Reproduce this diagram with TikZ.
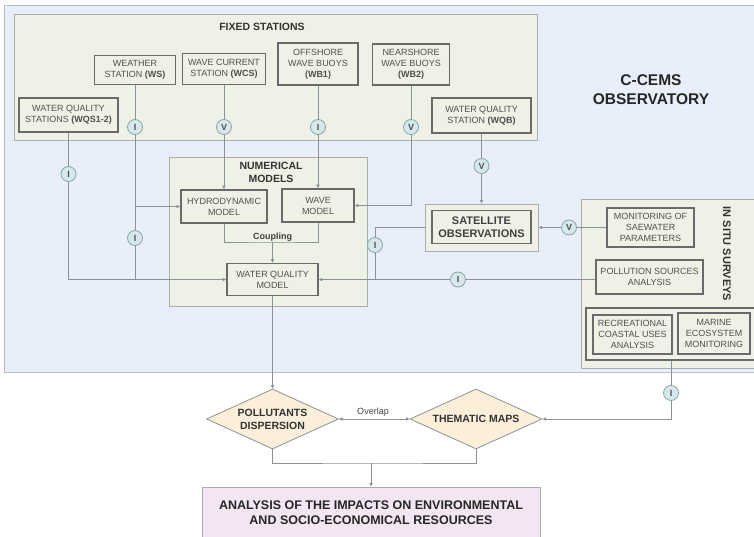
\documentclass[tikz,border=0pt]{standalone}
\usepackage{fontspec}
\setmainfont{Liberation Sans}
\usetikzlibrary{arrows.meta,shapes.geometric}
\definecolor{panelblue}{HTML}{E8EFFB}
\definecolor{panelgreen}{HTML}{EEF2E6}
\definecolor{panelline}{HTML}{A9AEAA}
\definecolor{linegray}{HTML}{8C9196}
\definecolor{boxline}{HTML}{6A6A6A}
\definecolor{txtgray}{HTML}{505050}
\definecolor{circfill}{HTML}{D6E8EC}
\definecolor{circline}{HTML}{86A4AA}
\definecolor{diafill}{HTML}{FBEFD9}
\definecolor{pinkfill}{HTML}{F3E5F1}
\begin{document}
\begin{tikzpicture}[x=1pt,y=-1pt,
  panel/.style={rectangle,fill=panelgreen,draw=panelline,line width=0.9pt,inner sep=0pt},
  sbox/.style={rectangle,draw=boxline,line width=1.4pt,fill=panelgreen,inner sep=0pt,align=center,
    font=\fontsize{9}{11}\selectfont,text=txtgray},
  conn/.style={draw=linegray,line width=0.8pt},
  tip/.tip={Triangle[length=3.6pt,width=3.2pt]},
  arr/.style={conn,-tip},
  ci/.style={circle,draw=circline,fill=circfill,line width=0.8pt,minimum size=15pt,inner sep=0pt,
    font=\bfseries\fontsize{9}{9}\selectfont,text=txtgray},
  ttl/.style={font=\bfseries\fontsize{10.5}{13}\selectfont,text=black!80,align=center},
  dia/.style={diamond,draw=linegray,fill=diafill,line width=0.8pt,inner sep=0pt,
    minimum width=132pt,minimum height=60pt}
]
\useasboundingbox (0,0) rectangle (754,537);
\clip (0,0) rectangle (754,537);
% background panel
\node[rectangle,fill=panelblue,draw=panelline!80,line width=0.8pt,minimum width=766pt,minimum height=367pt,inner sep=0pt] (obs) at (387,188.5) {};
\node[font=\bfseries\fontsize{15.5}{19}\selectfont,text=black!85,align=center] (obst) at (651,89.5) {C-CEMS\\OBSERVATORY};
% fixed stations
\node[panel,minimum width=523pt,minimum height=126pt] (fixed) at (275.5,77) {};
\node[ttl] (fixedt) at (262,26.5) {FIXED STATIONS};
\node[sbox,minimum width=81pt,minimum height=29pt] (ws) at (135,70) {WEATHER\\STATION \textbf{(WS)}};
\node[sbox,minimum width=83pt,minimum height=31pt] (wcs) at (224,69) {WAVE CURRENT\\STATION \textbf{(WCS)}};
\node[sbox,minimum width=80pt,minimum height=42pt] (wb1) at (318,64) {OFFSHORE\\WAVE BUOYS\\\textbf{(WB1)}};
\node[sbox,minimum width=77pt,minimum height=41pt] (wb2) at (411,64.5) {NEARSHORE\\WAVE BUOYS\\\textbf{(WB2)}};
\node[sbox,minimum width=99pt,minimum height=35pt] (wqb) at (481.5,115.5) {WATER QUALITY\\STATION \textbf{(WQB)}};
\node[sbox,minimum width=99pt,minimum height=34pt] (wqs) at (68.5,115) {WATER QUALITY\\STATIONS \textbf{(WQS1-2)}};
% numerical models
\node[panel,minimum width=198pt,minimum height=149pt] (num) at (268,231.5) {};
\node[ttl] (numt) at (271,172.5) {NUMERICAL\\MODELS};
\node[sbox,minimum width=86pt,minimum height=33pt] (hydro) at (224,206.5) {HYDRODYNAMIC\\MODEL};
\node[sbox,minimum width=72pt,minimum height=33pt] (wave) at (318,205.5) {WAVE\\MODEL};
\node[sbox,minimum width=91pt,minimum height=32pt] (wqm) at (272.5,279.5) {WATER QUALITY\\MODEL};
\coordinate (cp) at (272.5,242);
\node[font=\bfseries\fontsize{9}{9}\selectfont,text=black!75] (cpl) at (272.5,237) {Coupling};
% satellite
\node[panel,minimum width=113pt,minimum height=47pt] (satout) at (481.5,227.5) {};
\node[sbox,minimum width=99pt,minimum height=33pt,font=\bfseries\fontsize{11}{13}\selectfont,text=black!75] (sat) at (481.5,227) {SATELLITE\\OBSERVATIONS};
% in situ
\node[panel,minimum width=189pt,minimum height=169pt] (insitu) at (675.5,283.5) {};
\node[ttl,font=\bfseries\fontsize{11}{13}\selectfont,rotate=-90] (insitut) at (727,254) {IN SITU SURVEYS};
\node[sbox,minimum width=87pt,minimum height=39pt] (mon) at (650.5,227.5) {MONITORING OF\\SAEWATER\\PARAMETERS};
\node[sbox,minimum width=107pt,minimum height=34pt] (pol) at (649.5,277) {POLLUTION SOURCES\\ANALYSIS};
\node[sbox,minimum width=184pt,minimum height=52pt] (grp) at (678,334) {};
\node[sbox,minimum width=79pt,minimum height=39pt] (rec) at (632.5,334.5) {RECREATIONAL\\COASTAL USES\\ANALYSIS};
\node[sbox,minimum width=72pt,minimum height=41pt] (mar) at (714,333.5) {MARINE\\ECOSYSTEM\\MONITORING};
% outputs
\node[dia] (pd) at (272.5,419) {};
\node[ttl] (pdt) at (pd) {POLLUTANTS\\DISPERSION};
\node[dia] (tm) at (476,419) {};
\node[ttl] (tmt) at (tm) {THEMATIC MAPS};
\node[rectangle,draw=panelline,fill=pinkfill,line width=0.9pt,minimum width=338pt,minimum height=70pt,inner sep=0pt] (an) at (371,522) {};
\node[font=\bfseries\fontsize{12.5}{15}\selectfont,text=black!85,align=center] (ant) at (371,512.5) {ANALYSIS OF THE IMPACTS ON ENVIRONMENTAL\\AND SOCIO-ECONOMICAL RESOURCES};
% circles
\node[ci] (c1) at (135,127) {I};
\node[ci] (c2) at (224,127) {V};
\node[ci] (c3) at (318,127) {I};
\node[ci] (c4) at (411,127) {V};
\node[ci] (c5) at (68.5,174) {I};
\node[ci] (c6) at (135,238) {I};
\node[ci] (c7) at (481.5,166) {V};
\node[ci] (c8) at (569,227.5) {V};
\node[ci] (c9) at (375,245) {I};
\node[ci] (c10) at (458,279.5) {I};
\node[ci] (c11) at (671,393) {I};
\coordinate (m) at (371,463);
% connectors
\draw[conn] (ws) -- (c1);
\draw[conn] (c1) -- (c6);
\draw[conn] (c6) -- (c6 |- wqm.west);
\draw[arr] (c1 |- hydro.west) -- (hydro.west);
\draw[conn] (wqs) -- (c5);
\draw[arr] (c5) |- (wqm.west);
\draw[conn] (wcs) -- (c2);
\draw[arr] (c2) -- (hydro);
\draw[conn] (wb1) -- (c3);
\draw[arr] (c3) -- (wave);
\draw[conn] (wb2) -- (c4);
\draw[arr] (c4) |- (wave.east);
\draw[conn] (wqb) -- (c7);
\draw[arr] (c7) -- (satout.north);
\draw[conn] (mon) -- (c8);
\draw[arr] (c8) -- (satout.east);
\draw[conn] (satout.west) -| (c9);
\draw[conn] (c9) -- (c9 |- wqm.east);
\draw[conn] (pol.west |- c10) -- (c10);
\draw[arr] (c10) -- (wqm.east);
\draw[conn] (hydro.south) |- (cp) -| (wave.south);
\draw[arr] (cp) -- (wqm.north);
\draw[arr] (wqm) -- (pd);
\draw[conn,tip-tip] (pd.east) -- (tm.west);
\node[font=\fontsize{9}{9}\selectfont,text=black!75] (ovl) at (373,412.5) {Overlap};
\draw[conn] (grp.south -| c11) -- (c11);
\draw[arr] (c11) |- (tm.east);
\draw[conn] (pd.south) |- (m) -| (tm.south);
\draw[arr] (m) -- (an.north);
\end{tikzpicture}
\end{document}
